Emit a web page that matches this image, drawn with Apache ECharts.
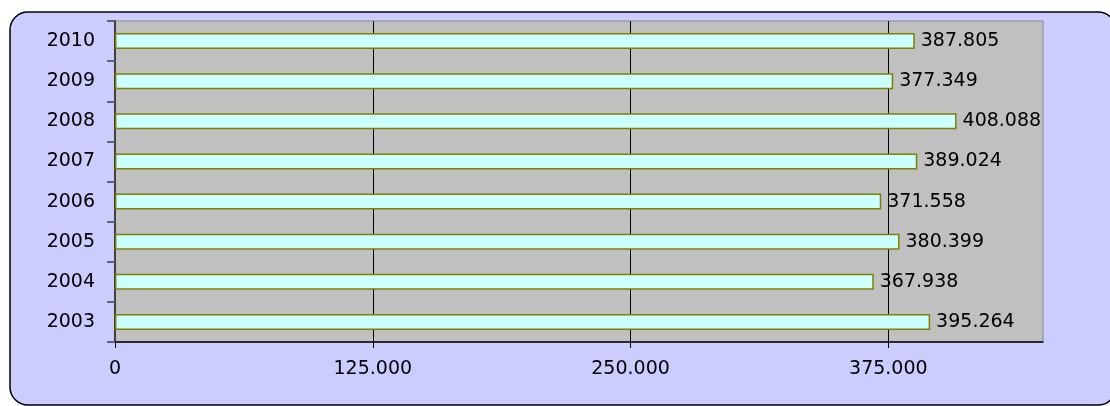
<!DOCTYPE html>
<html>
<head>
<meta charset="utf-8">
<script src="https://cdn.jsdelivr.net/npm/echarts@6/dist/echarts.min.js"></script>
<style>
  html, body { margin: 0; padding: 0; background: #ffffff; }
  #chart { width: 1110px; height: 406px; }
</style>
</head>
<body>
<div id="chart"></div>
<script>
// Yearly totals, 2003–2010
const years = ['2003', '2004', '2005', '2006', '2007', '2008', '2009', '2010'];
const totals = [395264, 367938, 380399, 371558, 389024, 408088, 377349, 387805];
const axisMax = 450000;
const tickStep = 125000;

// Dot as thousands separator
function fmt(v) {
  return String(Math.round(v)).replace(/\B(?=(\d{3})+(?!\d))/g, '.');
}

const chart = echarts.init(document.getElementById('chart'), null, { renderer: 'canvas' });

const textFont = 'DejaVu Sans, Arial, sans-serif';

chart.setOption({
  animation: false,
  backgroundColor: '#ffffff',
  textStyle: { fontFamily: textFont },
  graphic: [{
    type: 'rect',
    z: -100,
    silent: true,
    shape: { x: 10, y: 12, width: 1106, height: 393, r: 18 },
    style: { fill: '#CCCCFF', stroke: '#000000', lineWidth: 1.5 }
  }],
  grid: {
    left: 115, top: 21, right: 67, bottom: 64,
    show: true,
    backgroundColor: '#C0C0C0',
    borderColor: '#8c8c8c',
    borderWidth: 1
  },
  xAxis: {
    type: 'value',
    min: 0,
    max: axisMax,
    interval: tickStep,
    axisLine: { show: true, lineStyle: { color: '#000000', width: 1.5 } },
    axisTick: { show: true, length: 6, lineStyle: { color: '#000000' } },
    axisLabel: {
      color: '#000000', fontSize: 19, fontFamily: textFont, margin: 18,
      showMaxLabel: false,
      formatter: v => fmt(v)
    },
    splitLine: {
      show: true, showMinLine: false, showMaxLine: false,
      lineStyle: { color: '#000000', width: 1 }
    }
  },
  yAxis: {
    type: 'category',
    data: years,
    axisLine: { show: true, lineStyle: { color: '#404040', width: 2 } },
    axisTick: { show: true, length: 8, lineStyle: { color: '#606070', width: 2 } },
    axisLabel: { color: '#000000', fontSize: 19, fontFamily: textFont, margin: 20 },
    splitLine: { show: false }
  },
  series: [{
    type: 'bar',
    data: totals,
    barWidth: 16,
    itemStyle: { color: '#CCFFFF', borderColor: '#808000', borderWidth: 1.5 },
    label: {
      show: true,
      position: 'right',
      distance: 6,
      color: '#000000',
      fontSize: 19,
      fontFamily: textFont,
      formatter: p => fmt(p.value)
    }
  }]
});
</script>
</body>
</html>
